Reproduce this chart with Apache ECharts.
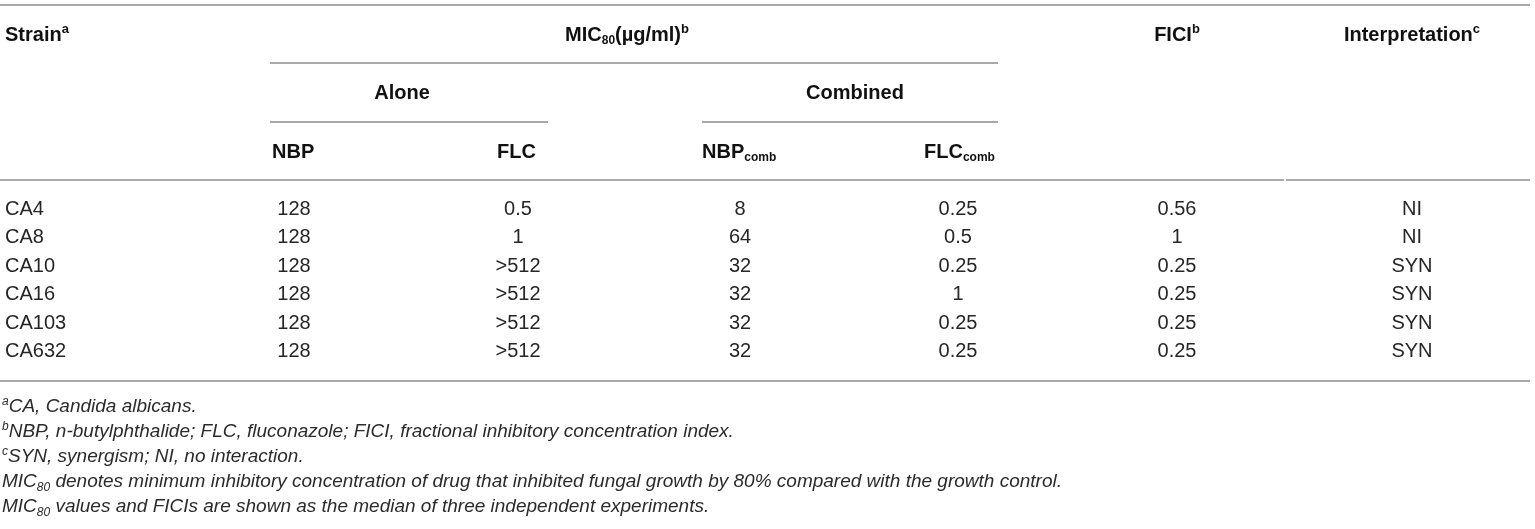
<!DOCTYPE html>
<html><head><meta charset="utf-8">
<script src="https://cdn.jsdelivr.net/npm/echarts@6/dist/echarts.min.js"></script>
<style>html,body{margin:0;padding:0;background:#fff}#c{width:1535px;height:529px}</style>
</head><body><div id="c"></div>
<script>
// ---- data ----
const strains = ['CA4', 'CA8', 'CA10', 'CA16', 'CA103', 'CA632'];
const nbpAlone = ['128', '128', '128', '128', '128', '128'];
const flcAlone = ['0.5', '1', '>512', '>512', '>512', '>512'];
const nbpComb = ['8', '64', '32', '32', '32', '32'];
const flcComb = ['0.25', '0.5', '0.25', '1', '0.25', '0.25'];
const fici = ['0.56', '1', '0.25', '0.25', '0.25', '0.25'];
const interpretation = ['NI', 'NI', 'SYN', 'SYN', 'SYN', 'SYN'];
const footnotes = [
  '{sup|a}{it|CA, Candida albicans.}',
  '{sup|b}{it|NBP, n-butylphthalide; FLC, fluconazole; FICI, fractional inhibitory concentration index.}',
  '{sup|c}{it|SYN, synergism; NI, no interaction.}',
  '{it|MIC}{sub|80}{it| denotes minimum inhibitory concentration of drug that inhibited fungal growth by 80% compared with the growth control.}',
  '{it|MIC}{sub|80}{it| values and FICIs are shown as the median of three independent experiments.}'
];

// ---- layout ----
const FONT = "'Liberation Sans', Arial, Helvetica, sans-serif";
const columns = [
  { vals: strains, x: 5, align: 'left' },
  { vals: nbpAlone, x: 294, align: 'center' },
  { vals: flcAlone, x: 518, align: 'center' },
  { vals: nbpComb, x: 740, align: 'center' },
  { vals: flcComb, x: 958, align: 'center' },
  { vals: fici, x: 1177, align: 'center' },
  { vals: interpretation, x: 1412, align: 'center' }
];

const HC = '#111';
const headRich = {
  h: { fontFamily: FONT, fontWeight: 'bold', fontSize: 20, fill: HC, color: HC, lineHeight: 24 },
  sup: { fontFamily: FONT, fontWeight: 'bold', fontSize: 13, fill: HC, color: HC, lineHeight: 13, verticalAlign: 'top' },
  sub: { fontFamily: FONT, fontWeight: 'bold', fontSize: 12, fill: HC, color: HC, lineHeight: 14, verticalAlign: 'bottom' }
};
const FC = '#2b2b2b';
const footRich = {
  it: { fontFamily: FONT, fontStyle: 'italic', fontSize: 19, fill: FC, color: FC, lineHeight: 23 },
  sup: { fontFamily: FONT, fontStyle: 'italic', fontSize: 12, fill: FC, color: FC, lineHeight: 13, verticalAlign: 'top' },
  sub: { fontFamily: FONT, fontStyle: 'italic', fontSize: 12, fill: FC, color: FC, lineHeight: 13, verticalAlign: 'bottom' }
};

function headText(text, x, y, align) {
  return { type: 'text', x: x, y: y, silent: true,
    style: { text: text, rich: headRich, align: align, textAlign: align,
      verticalAlign: 'middle', textVerticalAlign: 'middle', fill: HC } };
}
function rule(x1, x2, y) {
  return { type: 'line', silent: true, shape: { x1: x1, y1: y, x2: x2, y2: y },
    style: { stroke: '#8c8c8c', lineWidth: 1.6 } };
}

const graphics = [
  rule(0, 1530, 5),
  rule(270, 998, 63),
  rule(270, 548, 122),
  rule(702, 998, 122),
  rule(0, 1284, 180),
  rule(1286, 1530, 180),
  rule(0, 1530, 381),
  headText('{h|Strain}{sup|a}', 5, 35, 'left'),
  headText('{h|MIC}{sub|80}{h|(µg/ml)}{sup|b}', 627, 35, 'center'),
  headText('{h|FICI}{sup|b}', 1177, 35, 'center'),
  headText('{h|Interpretation}{sup|c}', 1412, 35, 'center'),
  headText('{h|Alone}', 402, 93, 'center'),
  headText('{h|Combined}', 855, 93, 'center'),
  headText('{h|NBP}', 272, 152, 'left'),
  headText('{h|FLC}', 497, 152, 'left'),
  headText('{h|NBP}{sub|comb}', 702, 152, 'left'),
  headText('{h|FLC}{sub|comb}', 924, 152, 'left')
];
footnotes.forEach(function (t, i) {
  graphics.push({ type: 'text', x: 2, y: 407 + i * 25, silent: true,
    style: { text: t, rich: footRich, align: 'left', textAlign: 'left',
      verticalAlign: 'middle', textVerticalAlign: 'middle', fill: FC } });
});

const DC = '#262626';
const series = columns.map(function (col) {
  return {
    type: 'custom',
    coordinateSystem: 'cartesian2d',
    silent: true,
    data: col.vals.map(function (v, i) { return [col.x, i]; }),
    renderItem: function (params, api) {
      const p = api.coord([api.value(0), api.value(1)]);
      return {
        type: 'text', x: p[0], y: p[1],
        style: {
          text: String(col.vals[params.dataIndex]),
          fill: DC, font: '20px ' + FONT,
          align: col.align, textAlign: col.align,
          verticalAlign: 'middle', textVerticalAlign: 'middle'
        }
      };
    }
  };
});

const chart = echarts.init(document.getElementById('c'), null, { renderer: 'canvas' });
chart.setOption({
  animation: false,
  backgroundColor: '#fff',
  grid: { left: 0, right: 0, top: 195, height: 171, containLabel: false },
  xAxis: { type: 'value', min: 0, max: 1535, show: false },
  yAxis: { type: 'category', data: strains, inverse: true, show: false },
  graphic: { elements: graphics },
  series: series
});
</script>
</body></html>
